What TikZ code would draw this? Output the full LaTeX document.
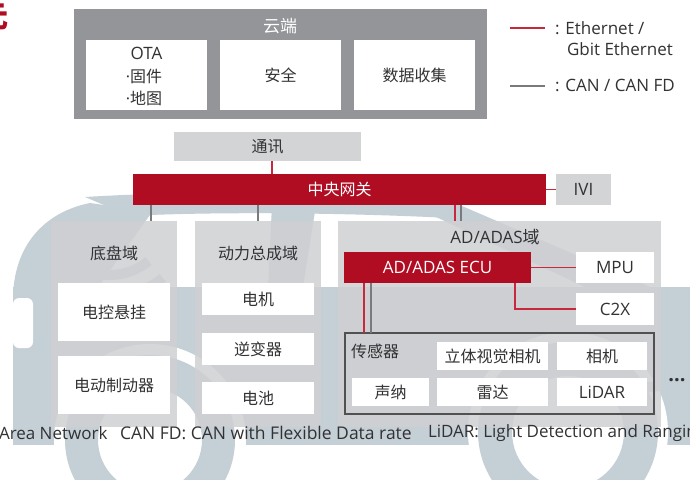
\documentclass[tikz,border=0pt]{standalone}
\usepackage{fontspec}
\setmainfont{Open Sans}
\newfontfamily\cjk{Noto Sans CJK SC}
\begin{document}
\definecolor{gwred}{RGB}{176,12,34}
\definecolor{linered}{RGB}{200,40,60}
\definecolor{cloudgrey}{RGB}{147,149,152}
\definecolor{lightgrey}{RGB}{211,212,214}
\definecolor{domaingrey}{RGB}{207,208,210}
\definecolor{cangrey}{RGB}{120,122,125}
\definecolor{txt}{RGB}{50,50,52}
\definecolor{carc}{RGB}{196,207,214}
\begin{tikzpicture}[x=1pt,y=-1pt,
  every node/.style={inner sep=0pt, outer sep=0pt, text=txt},
  lbl/.style={font=\fontsize{16}{19}\selectfont\cjk},
  lat/.style={font=\fontsize{17}{20}\selectfont},
  foot/.style={font=\fontsize{17}{20}\selectfont},
  whitebox/.style={fill=white, lbl, align=center},
  greybox/.style={fill=lightgrey, lbl},
  redbox/.style={fill=gwred, lbl, text=white},
  domainbox/.style={fill=domaingrey, fill opacity=0.85, text opacity=1},
  eth/.style={draw=linered, line width=1.4pt},
  can/.style={draw=cangrey, line width=1.4pt},
  carpart/.style={fill=carc},
  wave/.style={draw=carc, line width=10pt},
]
% canvas
\fill[white] (0,0) rectangle (690,479);
\useasboundingbox (0,0) rectangle (690,479);
\clip (0,0) rectangle (690,479);

% ---- car silhouette in the background ----
% lower body
\fill[carpart] (13,287) rectangle (700,445);
% rear shoulder
\fill[carpart] (13,300) .. controls (13,245) and (45,212) .. (90,203)
  -- (152,212) -- (98,287) -- (13,287) -- cycle;
% roof
\fill[carpart] (85,197) .. controls (200,190) and (330,192) .. (445,200)
  -- (450,218) .. controls (330,212) and (200,212) .. (130,216) -- cycle;
% centre pillar
\fill[carpart] (272,205) -- (316,205) -- (303,287) -- (268,287) -- cycle;
% windscreen pillar
\fill[carpart] (400,200) -- (455,203) -- (650,287) -- (585,287) -- cycle;
% rear lamp cut-out
\fill[white, rounded corners=6pt] (13,298) rectangle (33,348);
% wheel arches and wheels
\fill[white] (150,440) circle (96);
\fill[white] (568,432) circle (100);
\fill[carc, even odd rule] (150,440) circle (85) (150,440) circle (52);
\fill[carc, even odd rule] (568,432) circle (90) (568,432) circle (56);
% wifi waves
\foreach \r/\a/\b in {40/58/122, 60/50/130, 82/50/130}
  \draw[wave] (110,215) ++(\a:\r) arc[start angle=\a, end angle=\b, radius=\r];
\foreach \r/\a/\b in {40/58/122, 62/52/128, 87/52/128}
  \draw[wave] (645,300) ++(\a:\r) arc[start angle=\a, end angle=\b, radius=\r];

% ---- title fragment ----
\node[anchor=east, text=gwred, font=\fontsize{30}{30}\selectfont\cjk\bfseries] (ttl) at (9,17) {元};

% ---- cloud ----
\node[fill=cloudgrey, minimum width=413pt, minimum height=110pt] (cloud) at (280.5,64) {};
\node[lbl, text=white, font=\fontsize{17}{20}\selectfont\cjk] (cloudt) at (280,26) {云端};
\node[whitebox, minimum width=121pt, minimum height=70pt] (ota) at (146.5,75) {};
\node[lat] (otat) at (146.5,53) {OTA};
\node[lbl] (ota1) at (144,76) {{\fontspec{Open Sans}·}固件};
\node[lbl] (ota2) at (144,98) {{\fontspec{Open Sans}·}地图};
\node[whitebox, minimum width=121pt, minimum height=70pt] (sec) at (280.5,75) {安全};
\node[whitebox, minimum width=121pt, minimum height=70pt] (data) at (414.5,75) {数据收集};

% ---- legend ----
\coordinate (le1a) at (510,28); \coordinate (le1b) at (545,28);
\coordinate (le2a) at (510,86); \coordinate (le2b) at (545,86);
\draw[eth] (le1a) -- (le1b);
\draw[can] (le2a) -- (le2b);
\node[lat, anchor=west] (leg1) at (555,28) {: Ethernet /};
\node[lat, anchor=west] (leg1b) at (567,49) {Gbit Ethernet};
\node[lat, anchor=west] (leg2) at (555,85) {: CAN / CAN FD};

% ---- gateway layer ----
\node[greybox, minimum width=187pt, minimum height=29pt] (comm) at (267.5,146.5) {通讯};
\node[redbox, minimum width=413pt, minimum height=31pt] (gw) at (339.5,189.5) {中央网关};
\node[greybox, lat, minimum width=55pt, minimum height=31pt] (ivi) at (583.5,189.5) {IVI};

% ---- domains ----
\node[domainbox, minimum width=126pt, minimum height=206pt] (chassis) at (114,324) {};
\node[domainbox, minimum width=126pt, minimum height=206pt] (power) at (258,324) {};
\node[domainbox, minimum width=323pt, minimum height=206pt] (ad) at (499.5,324) {};
\node[lbl] (chassist) at (114,253) {底盘域};
\node[lbl] (powert) at (258,253) {动力总成域};
\node[lat] (adt) at (495,237) {AD/ADAS{\cjk 域}};

\node[whitebox, minimum width=112pt, minimum height=58pt] (susp) at (114,312) {电控悬挂};
\node[whitebox, minimum width=112pt, minimum height=58pt] (brake) at (114,385) {电动制动器};
\node[whitebox, minimum width=112pt, minimum height=32pt] (motor) at (258,299) {电机};
\node[whitebox, minimum width=112pt, minimum height=32pt] (inv) at (258,349) {逆变器};
\node[whitebox, minimum width=112pt, minimum height=32pt] (batt) at (258,398) {电池};

\node[redbox, lat, minimum width=187pt, minimum height=31pt] (ecu) at (437.5,267.5) {AD/ADAS ECU};
\node[whitebox, lat, minimum width=78pt, minimum height=31pt] (mpu) at (615,267.5) {MPU};
\node[whitebox, lat, minimum width=78pt, minimum height=32pt] (c2x) at (615,309) {C2X};

\node[draw=txt!85, line width=1.2pt, minimum width=309pt, minimum height=81pt] (sensor) at (499.5,373.5) {};
\node[lbl, anchor=west] (sensort) at (351,351) {传感器};
\node[whitebox, minimum width=111pt, minimum height=28pt] (stereo) at (492.5,356) {立体视觉相机};
\node[whitebox, minimum width=90pt, minimum height=28pt] (cam) at (602,356) {相机};
\node[whitebox, minimum width=77pt, minimum height=28pt] (sonar) at (390.5,392) {声纳};
\node[whitebox, minimum width=111pt, minimum height=28pt] (radar) at (492.5,392) {雷达};
\node[whitebox, lat, minimum width=90pt, minimum height=28pt] (lidar) at (602,392) {LiDAR};
\node[font=\fontsize{20}{20}\selectfont\bfseries] (more) at (677,380) {...};

% ---- connectors ----
\coordinate (xcomm) at (272,0);
\coordinate (xch) at (151,0);
\coordinate (xpw) at (258,0);
\coordinate (xade) at (455,0);
\coordinate (xadc) at (461,0);
\coordinate (xc2x) at (515,0);
\coordinate (xse) at (364,0);
\coordinate (xsc) at (371,0);
\draw[eth] (comm.south -| xcomm) -- (gw.north -| xcomm);
\draw[eth] (gw.east) -- (ivi.west);
\draw[can] (gw.south -| xch) -- (chassis.north -| xch);
\draw[can] (gw.south -| xpw) -- (power.north -| xpw);
\draw[eth] (gw.south -| xade) -- (ad.north -| xade);
\draw[can] (gw.south -| xadc) -- (ad.north -| xadc);
\draw[eth] (ecu.east) -- (mpu.west);
\draw[eth] (ecu.south -| xc2x) |- (c2x.west);
\draw[eth] (ecu.south -| xse) -- (sensor.north -| xse);
\draw[can] (ecu.south -| xsc) -- (sensor.north -| xsc);

% ---- footnote ----
\node[foot, anchor=west] (foot1) at (-1,433) {Area Network};
\node[foot, anchor=west, font=\fontsize{17.5}{20}\selectfont] (foot2) at (120,433) {CAN FD: CAN with Flexible Data rate};
\node[foot, anchor=west] (foot3) at (428,433) {LiDAR: Light Detection and Ranging};
\end{tikzpicture}
\end{document}
